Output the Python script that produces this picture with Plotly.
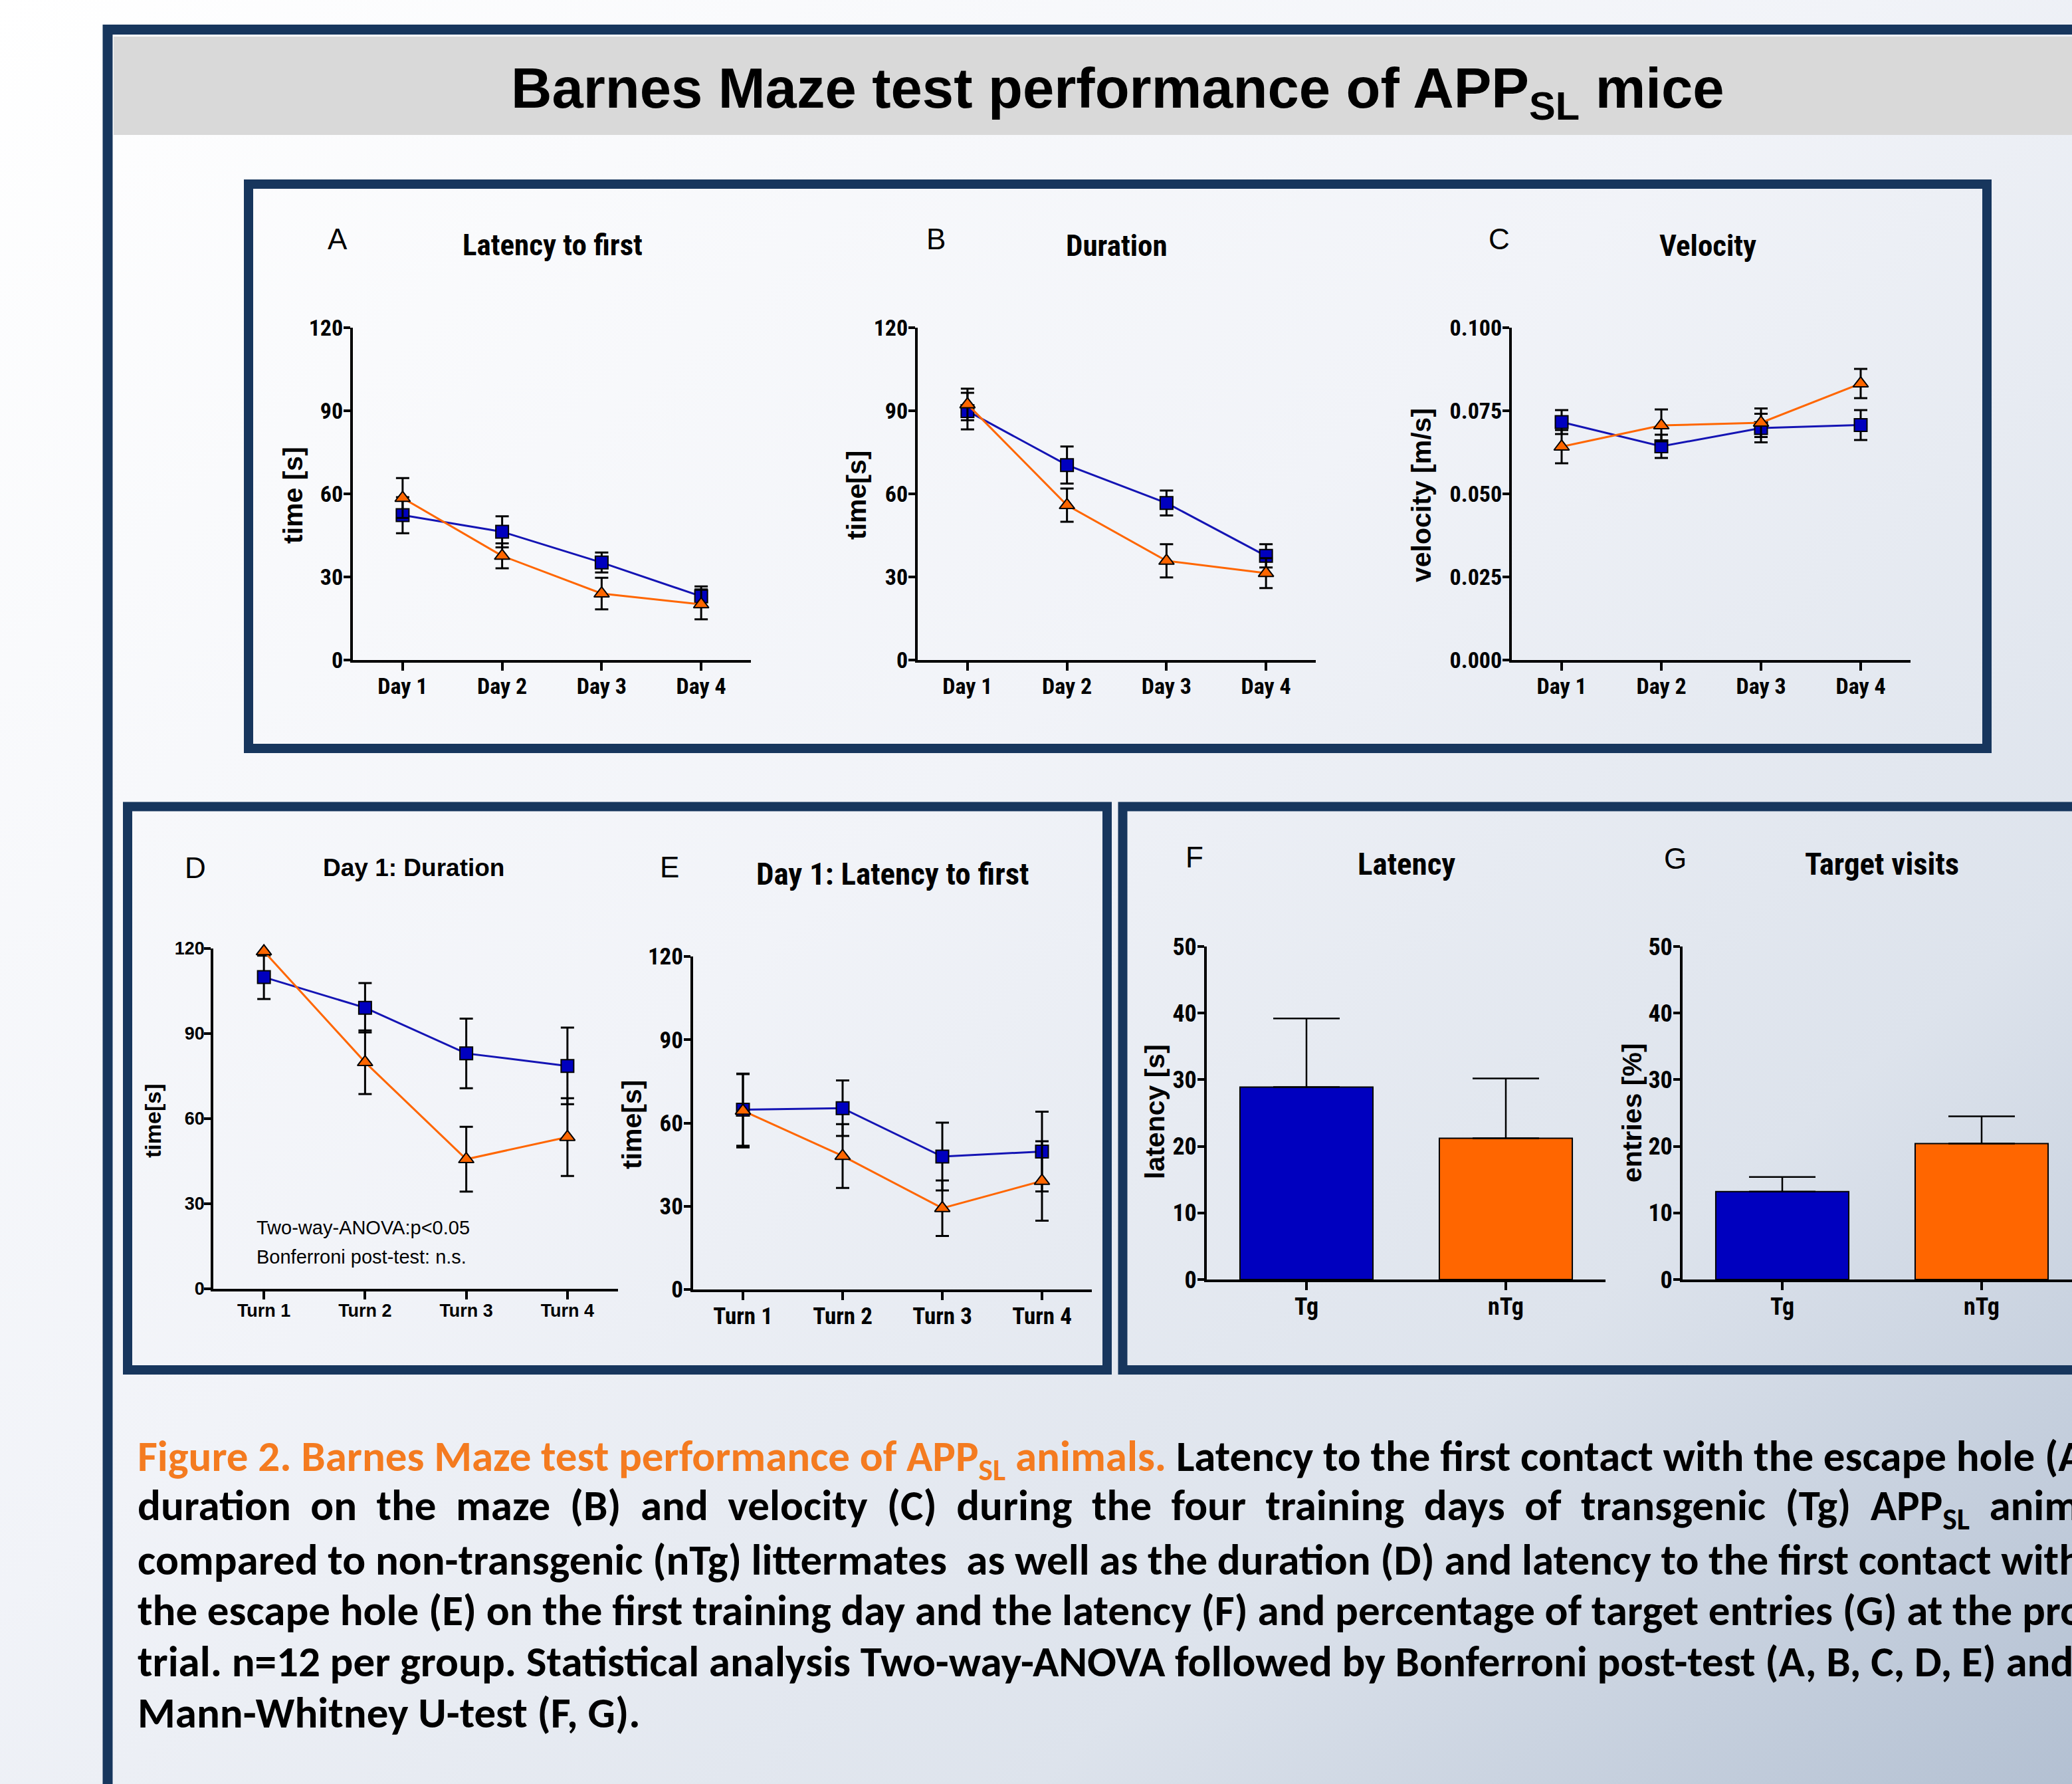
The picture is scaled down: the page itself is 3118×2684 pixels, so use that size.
import base64
import plotly.graph_objects as go

W, H = 3118, 2684

# ---------------- data ----------------
days = ["Day 1", "Day 2", "Day 3", "Day 4"]
turns = ["Turn 1", "Turn 2", "Turn 3", "Turn 4"]
groups = ["Tg", "nTg"]

# A: latency to first contact [s]
a_tg = [52.3, 46.3, 35.2, 23.0]
a_tg_err = [6.5, 5.6, 3.6, 3.6]
a_ntg = [58.5, 37.6, 24.0, 20.1]
a_ntg_err = [7.2, 4.5, 5.7, 5.4]

# B: duration [s]
b_tg = [89.9, 70.4, 56.7, 37.6]
b_tg_err = [6.6, 6.7, 4.5, 4.2]
b_ntg = [92.3, 55.9, 35.8, 31.4]
b_ntg_err = [5.7, 6.0, 6.0, 5.4]

# C: velocity [m/s]
c_tg = [0.0716, 0.0643, 0.0698, 0.0707]
c_tg_err = [0.0036, 0.0035, 0.0043, 0.0045]
c_ntg = [0.0642, 0.0706, 0.0714, 0.0832]
c_ntg_err = [0.0050, 0.0048, 0.0043, 0.0044]

# D: day 1 duration [s]
d_tg = [109.9, 99.1, 83.0, 78.6]
d_tg_err = [7.7, 8.7, 12.3, 13.5]
d_ntg = [119.0, 79.9, 45.7, 53.5]
d_ntg_err = [1.5, 11.2, 11.4, 13.7]

# E: day 1 latency to first [s]
e_tg = [64.8, 65.3, 47.9, 49.7]
e_tg_err = [13.0, 10.0, 12.2, 14.4]
e_ntg = [64.4, 48.1, 29.3, 39.1]
e_ntg_err = [13.2, 11.5, 10.0, 14.3]

# F: probe latency [s]
f_vals = [28.9, 21.2]
f_err = [10.3, 9.0]

# G: target visits [%]
g_vals = [13.2, 20.4]
g_err = [2.2, 4.1]

time_ticks = [0, 30, 60, 90, 120]
vel_ticks = [0.0, 0.025, 0.05, 0.075, 0.1]
vel_ticktext = ["0.000", "0.025", "0.050", "0.075", "0.100"]
bar_ticks = [0, 10, 20, 30, 40, 50]

# ---------------- style ----------------
NAVY = "#17365d"
BLUE = "#0000bf"
BLUE_LINE = "#1414b4"
ORANGE = "#ff6600"
CAP_ORANGE = "#f47b20"
NARROW = "'Liberation Sans Narrow', 'Arial Narrow', 'Roboto Condensed', 'Liberation Sans', Arial, sans-serif"
ARIAL = "'Liberation Sans', Arial, sans-serif"
CAPTION = "Carlito, Calibri, 'Liberation Sans Narrow', 'Open Sans', sans-serif"


def fx(px):
    return px / W


def fy(py):
    return 1 - py / H


def xdom(a, b):
    return [fx(a), min(fx(b), 1.0)]


def ydom(top, bottom):
    return [fy(bottom), fy(top)]


fig = go.Figure()

# panels: key -> (x0, x1, ytop, ybottom) in page pixels
panels = {
    1: (531, 1130, 493, 993),
    2: (1381, 1980, 493, 993),
    3: (2275, 2875, 493, 993),
    4: (321, 930, 1427, 1939),
    5: (1043, 1643, 1439, 1940),
    6: (1816, 2416, 1424, 1925),
    7: (2532, 3118, 1424, 1925),
}


def line_pair(n, tg, tg_err, ntg, ntg_err, cap=10):
    xs = list(range(len(tg)))
    ax = "" if n == 1 else str(n)
    fig.add_trace(go.Scatter(
        x=xs, y=tg, mode="lines+markers", xaxis="x" + ax, yaxis="y" + ax,
        line=dict(color=BLUE_LINE, width=3),
        marker=dict(symbol="square", size=19, color=BLUE, line=dict(color="black", width=2)),
        error_y=dict(type="data", array=tg_err, color="black", thickness=3, width=cap),
        cliponaxis=False, showlegend=False, name="Tg"))
    fig.add_trace(go.Scatter(
        x=xs, y=ntg, mode="lines+markers", xaxis="x" + ax, yaxis="y" + ax,
        line=dict(color=ORANGE, width=3),
        marker=dict(symbol="triangle-up", size=20, color=ORANGE, line=dict(color="black", width=2)),
        error_y=dict(type="data", array=ntg_err, color="black", thickness=3, width=cap),
        cliponaxis=False, showlegend=False, name="nTg"))


def bar_pair(n, vals, err):
    ax = str(n)
    fig.add_trace(go.Bar(
        x=list(range(len(vals))), y=vals, width=0.667, xaxis="x" + ax, yaxis="y" + ax,
        marker=dict(color=[BLUE, ORANGE], line=dict(color="black", width=2)),
        error_y=dict(type="data", array=err, arrayminus=[0] * len(err), symmetric=False,
                     color="black", thickness=2.5, width=50),
        cliponaxis=False, showlegend=False))


line_pair(1, a_tg, a_tg_err, a_ntg, a_ntg_err)
line_pair(2, b_tg, b_tg_err, b_ntg, b_ntg_err)
line_pair(3, c_tg, c_tg_err, c_ntg, c_ntg_err)
line_pair(4, d_tg, d_tg_err, d_ntg, d_ntg_err)
line_pair(5, e_tg, e_tg_err, e_ntg, e_ntg_err)
bar_pair(6, f_vals, f_err)
bar_pair(7, g_vals, g_err)

layout = dict(
    width=W, height=H,
    margin=dict(l=0, r=0, t=0, b=0, pad=0, autoexpand=False),
    paper_bgcolor="white", plot_bgcolor="rgba(0,0,0,0)", showlegend=False,
)


def axis_pair(n, xrange, xvals, xtext, yrange, yvals, ytext, tfont_x, tfont_y, lw=4):
    x0, x1, yt, yb = panels[n]
    ax = "" if n == 1 else str(n)
    common = dict(showline=True, linecolor="black", linewidth=lw, ticks="outside",
                  tickcolor="black", tickwidth=lw, showgrid=False, zeroline=False,
                  fixedrange=True, automargin=False, ticklabelstandoff=-6)
    layout["xaxis" + ax] = dict(domain=xdom(x0, x1), range=xrange, tickmode="array",
                                tickvals=xvals, ticktext=xtext, ticklen=12,
                                anchor="y" + ax, tickfont=tfont_x, **common)
    layout["yaxis" + ax] = dict(domain=ydom(yt, yb), range=yrange, tickmode="array",
                                tickvals=yvals, ticktext=ytext, ticklen=10,
                                anchor="x" + ax, tickfont=tfont_y, **common)


f_narrow34 = dict(family=NARROW, size=34, color="black", weight=700)
f_narrow35 = dict(family=NARROW, size=35, color="black", weight=700)
f_narrow36 = dict(family=NARROW, size=36, color="black", weight=700)
f_arial27 = dict(family=ARIAL, size=27, color="black", weight=700)

axis_pair(1, [-0.5, 3.5], [0, 1, 2, 3], days, [0, 120], time_ticks,
          [str(v) for v in time_ticks], f_narrow34, f_narrow34)
axis_pair(2, [-0.5, 3.5], [0, 1, 2, 3], days, [0, 120], time_ticks,
          [str(v) for v in time_ticks], f_narrow34, f_narrow34)
axis_pair(3, [-0.5, 3.5], [0, 1, 2, 3], days, [0, 0.1], vel_ticks,
          vel_ticktext, f_narrow34, f_narrow34)
axis_pair(4, [-0.5, 3.5], [0, 1, 2, 3], turns, [0, 120], time_ticks,
          [str(v) for v in time_ticks], f_arial27, f_arial27, lw=3.5)
axis_pair(5, [-0.5, 3.5], [0, 1, 2, 3], turns, [0, 120], time_ticks,
          [str(v) for v in time_ticks], f_narrow35, f_narrow35)
axis_pair(6, [-0.5, 1.5], [0, 1], groups, [0, 50], bar_ticks,
          [str(v) for v in bar_ticks], f_narrow36, f_narrow36)
axis_pair(7, [-0.5, -0.5 + (3118 - 2532) / 300.0], [0, 1], groups, [0, 50], bar_ticks,
          [str(v) for v in bar_ticks], f_narrow36, f_narrow36)

# ---------------- annotations ----------------
anns = []


def ann(text, x, y, size, family, weight=400, xanchor="center", yanchor="middle",
        angle=0, color="black"):
    anns.append(dict(text=text, x=fx(x), y=fy(y), xref="paper", yref="paper",
                     showarrow=False, xanchor=xanchor, yanchor=yanchor, textangle=angle,
                     font=dict(size=size, family=family, color=color, weight=weight)))


ann("Barnes Maze test performance of APP<sub>SL</sub> mice", 1681, 139, 85, ARIAL, 700)

# panel letters
for letter, x, y in [("A", 508, 360), ("B", 1408, 360), ("C", 2256, 360), ("D", 294, 1305),
                     ("E", 1007, 1304), ("F", 1797, 1289), ("G", 2521, 1291)]:
    ann(letter, x, y, 44, ARIAL, 400)

# panel titles
ann("Latency to first", 831, 368, 45, NARROW, 700)
ann("Duration", 1680, 370, 45, NARROW, 700)
ann("Velocity", 2570, 370, 45, NARROW, 700)
ann("Day 1: Duration", 622, 1305, 37, ARIAL, 700)
ann("Day 1: Latency to first", 1343, 1314, 47, NARROW, 700)
ann("Latency", 2116, 1299, 47, NARROW, 700)
ann("Target visits", 2832, 1299, 47, NARROW, 700)

# axis titles
ann("time [s]", 441, 745, 41, ARIAL, 700, angle=-90)
ann("time[s]", 1289, 745, 41, ARIAL, 700, angle=-90)
ann("velocity [m/s]", 2139, 745, 41, ARIAL, 700, angle=-90)
ann("time[s]", 230, 1686, 34, ARIAL, 700, angle=-90)
ann("time[s]", 951, 1692, 41, ARIAL, 700, angle=-90)
ann("latency [s]", 1738, 1672, 41, ARIAL, 700, angle=-90)
ann("entries [%]", 2456, 1674, 41, ARIAL, 700, angle=-90)

# statistics note in D
ann("Two-way-ANOVA:p<0.05", 384, 1847, 29, ARIAL, 400, xanchor="left")
ann("Bonferroni post-test: n.s.", 384, 1891, 29, ARIAL, 400, xanchor="left")

# caption (line 2 is justified in the original: wider word gaps)
NB = "\u00a0 "
caption_lines = [
    "<span style='color:%s'>Figure 2. Barnes Maze test performance of APP<sub>SL</sub> animals.</span>"
    " Latency to the first contact with the escape hole (A)," % CAP_ORANGE,
    NB.join("duration on the maze (B) and velocity (C) during the four training days of "
            "transgenic (Tg) APP<sub>SL</sub> animals".split(" ")),
    "compared to non-transgenic (nTg) littermates  as well as the duration (D) and latency to the first contact with",
    "the escape hole (E) on the first training day and the latency (F) and percentage of target entries (G) at the probe",
    "trial. n=12 per group. Statistical analysis Two-way-ANOVA followed by Bonferroni post-test (A, B, C, D, E) and",
    "Mann-Whitney U-test (F, G).",
]
caption_y = [2195, 2269, 2346, 2422, 2499, 2576]
for line, yy in zip(caption_lines, caption_y):
    ann(line, 205, yy, 65, CAPTION, 700, xanchor="left")

layout["annotations"] = anns

# ---------------- frames ----------------
shapes = []


def rect(x0, y0, x1, y1, line_w=0, line_c=None, fill=None):
    d = dict(type="rect", xref="paper", yref="paper", x0=fx(x0), x1=fx(x1),
             y0=fy(y1), y1=fy(y0), layer="above")
    if line_w:
        d["line"] = dict(color=line_c, width=line_w)
    else:
        d["line"] = dict(width=0)
    d["fillcolor"] = fill if fill else "rgba(0,0,0,0)"
    shapes.append(d)


rect(171, 55, 3300, 203, fill="#d9d9d9")
rect(162, 44.5, 3300, 2800, line_w=15, line_c=NAVY)
rect(374, 277, 2990, 1126, line_w=14, line_c=NAVY)
rect(192, 1213.5, 1666, 2061, line_w=14, line_c=NAVY)
rect(1689.5, 1213.5, 3300, 2061, line_w=14, line_c=NAVY)
layout["shapes"] = shapes

# ---------------- background gradient ----------------
svg = (
    "<svg xmlns='http://www.w3.org/2000/svg' width='3118' height='2684' preserveAspectRatio='none'>"
    "<defs><linearGradient id='g' x1='0' y1='0' x2='1' y2='1'>"
    "<stop offset='0' stop-color='#ffffff'/>"
    "<stop offset='0.45' stop-color='#f1f3f8'/>"
    "<stop offset='0.75' stop-color='#dde3ec'/>"
    "<stop offset='1' stop-color='#b3c0d2'/>"
    "</linearGradient></defs>"
    "<rect width='100%' height='100%' fill='url(#g)'/></svg>"
)
src = "data:image/svg+xml;base64," + base64.b64encode(svg.encode()).decode()
layout["images"] = [dict(source=src, xref="paper", yref="paper", x=0, y=1, sizex=1, sizey=1,
                         sizing="stretch", xanchor="left", yanchor="top", layer="below")]

fig.update_layout(**layout)

fig.write_html("out.html", config={"displayModeBar": False},
               post_script="document.body.style.margin='0';document.body.style.overflow='hidden';")
